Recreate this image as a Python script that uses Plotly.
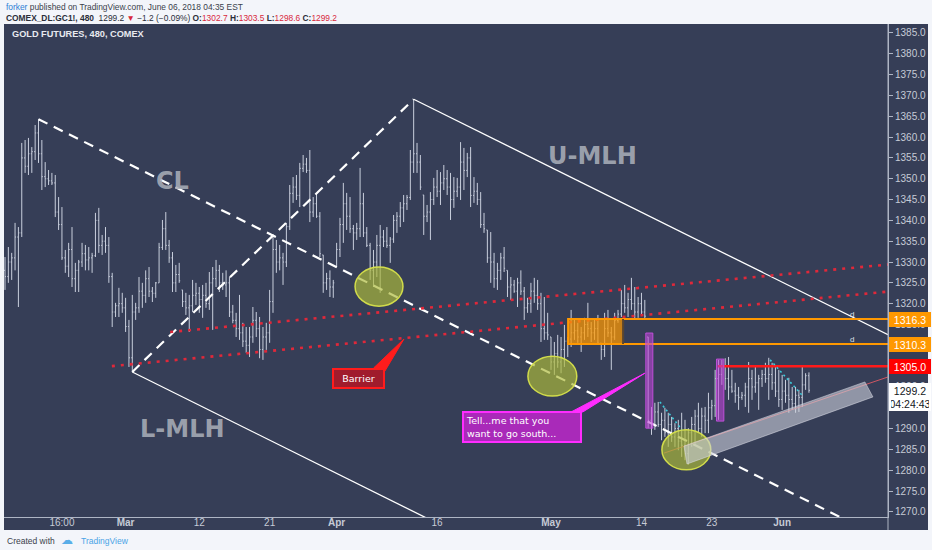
import plotly.graph_objects as go

# ---------------- data (8h bars, GC1!) ----------------
high = [
    1331.2, 1333.6, 1332.2, 1339.4, 1338.4, 1358.6, 1359.3, 1359.8, 1357.6, 1362.9,
    1364.3, 1359.3, 1354.0, 1352.1, 1351.4, 1350.9, 1345.6, 1343.2, 1332.9, 1334.6,
    1338.4, 1329.8, 1330.5, 1334.6, 1334.1, 1333.6, 1332.2, 1341.8, 1343.0, 1336.5,
    1338.4, 1336.0, 1327.4, 1320.2, 1323.8, 1322.6, 1321.4, 1316.1, 1322.1, 1320.2,
    1326.4, 1325.0, 1328.0, 1328.8, 1324.0, 1325.2, 1334.6, 1340.1, 1342.0, 1335.3,
    1332.4, 1329.3, 1329.8, 1323.3, 1322.6, 1322.1, 1325.7, 1325.0, 1324.0, 1324.5,
    1325.0, 1327.6, 1328.8, 1330.5, 1329.3, 1327.4, 1328.0, 1326.4, 1319.7, 1317.8,
    1322.1, 1315.4, 1314.4, 1314.4, 1319.2, 1318.0, 1316.8, 1314.4, 1315.4, 1323.3,
    1336.0, 1335.3, 1334.1, 1332.2, 1339.4, 1348.5, 1350.4, 1350.9, 1353.8, 1355.7,
    1355.0, 1356.9, 1345.6, 1346.6, 1342.0, 1331.7, 1327.4, 1328.0, 1325.7, 1334.6,
    1340.6, 1349.0, 1346.6, 1345.6, 1338.9, 1339.4, 1352.6, 1346.6, 1338.4, 1334.6,
    1332.9, 1336.5, 1338.9, 1337.7, 1338.4, 1336.0, 1341.3, 1342.0, 1344.4, 1346.1,
    1346.1, 1356.9, 1369.1, 1358.6, 1355.7, 1346.1, 1343.7, 1346.8, 1350.2, 1352.1,
    1351.6, 1353.3, 1352.1, 1351.4, 1350.4, 1350.2, 1358.8, 1357.4, 1356.2, 1357.6,
    1350.4, 1349.0, 1346.8, 1341.8, 1337.7, 1337.2, 1332.2, 1329.8, 1332.2, 1333.6,
    1328.0, 1326.4, 1325.7, 1326.2, 1328.0, 1324.0, 1321.4, 1325.0, 1326.2, 1325.7,
    1322.6, 1321.6, 1317.8, 1312.0, 1310.8, 1312.5, 1312.0, 1314.9, 1312.0, 1318.5,
    1316.1, 1315.4, 1314.4, 1316.6, 1320.2, 1315.6, 1316.1, 1317.3, 1310.6, 1317.8,
    1318.5, 1314.4, 1317.8, 1318.5, 1323.3, 1324.5, 1322.6, 1326.2, 1324.0, 1321.6,
    1322.6, 1320.9, 1312.0, 1295.2, 1296.2, 1296.4, 1293.8, 1295.0, 1293.8, 1292.8,
    1291.3, 1292.1, 1293.8, 1292.1, 1290.1, 1292.8, 1294.5, 1296.2, 1295.0, 1295.2,
    1298.6, 1296.9, 1304.1, 1306.5, 1306.5, 1306.9, 1307.2, 1304.1, 1301.0, 1300.0,
    1298.8, 1301.0, 1306.0, 1304.1, 1304.8, 1302.9, 1304.1, 1305.8, 1307.0, 1305.8,
    1304.8, 1304.1, 1302.9, 1301.7, 1302.2, 1300.0, 1300.0, 1299.3, 1304.8, 1303.3,
    1303.5,
]
low = [
    1323.3, 1325.0, 1325.7, 1328.0, 1319.2, 1336.0, 1351.4, 1350.9, 1351.4, 1354.5,
    1353.8, 1347.3, 1348.0, 1348.5, 1348.5, 1340.8, 1337.7, 1330.5, 1327.4, 1326.4,
    1324.0, 1322.8, 1322.8, 1328.8, 1328.0, 1328.0, 1327.4, 1331.2, 1332.2, 1331.7,
    1332.2, 1325.0, 1314.4, 1316.8, 1316.8, 1317.8, 1313.2, 1304.8, 1303.6, 1316.1,
    1317.8, 1319.0, 1320.2, 1321.6, 1320.4, 1321.4, 1325.0, 1332.9, 1332.9, 1329.8,
    1322.8, 1322.8, 1325.0, 1319.2, 1317.3, 1313.2, 1318.0, 1319.7, 1317.8, 1316.6,
    1319.0, 1318.5, 1313.7, 1324.0, 1322.8, 1323.3, 1321.6, 1316.8, 1315.3, 1312.0,
    1311.3, 1309.6, 1308.2, 1307.2, 1310.6, 1312.0, 1306.9, 1306.5, 1308.9, 1310.6,
    1317.8, 1327.4, 1328.0, 1324.5, 1328.8, 1337.7, 1344.2, 1344.9, 1343.2, 1351.6,
    1351.4, 1339.6, 1340.8, 1340.6, 1331.2, 1322.6, 1323.3, 1321.6, 1321.4, 1328.8,
    1331.2, 1334.6, 1337.7, 1337.0, 1332.9, 1335.3, 1336.0, 1336.0, 1333.6, 1325.7,
    1324.0, 1326.4, 1322.6, 1333.6, 1333.4, 1329.8, 1334.6, 1337.0, 1338.4, 1339.6,
    1342.5, 1344.9, 1351.4, 1351.4, 1347.3, 1336.5, 1339.6, 1335.3, 1343.7, 1345.6,
    1343.7, 1347.3, 1346.1, 1340.1, 1343.0, 1345.6, 1344.9, 1347.3, 1350.4, 1343.2,
    1344.2, 1343.7, 1338.2, 1337.0, 1329.8, 1325.0, 1323.8, 1323.3, 1325.7, 1327.6,
    1321.6, 1320.9, 1322.6, 1319.2, 1322.1, 1316.1, 1317.8, 1317.8, 1320.2, 1318.5,
    1310.8, 1311.3, 1311.3, 1304.1, 1302.9, 1304.6, 1303.3, 1304.8, 1307.2, 1309.6,
    1311.3, 1310.6, 1308.4, 1311.3, 1312.0, 1310.8, 1311.3, 1310.1, 1306.5, 1307.2,
    1312.0, 1304.1, 1311.3, 1315.4, 1316.8, 1317.8, 1316.8, 1318.5, 1316.1, 1316.6,
    1317.3, 1316.1, 1290.1, 1288.5, 1289.7, 1290.4, 1287.2, 1288.0, 1285.6, 1286.8,
    1285.6, 1284.8, 1283.2, 1282.4, 1281.3, 1285.6, 1286.1, 1288.9, 1288.0, 1288.9,
    1288.9, 1292.1, 1292.8, 1292.1, 1300.5, 1299.3, 1296.9, 1298.6, 1296.2, 1294.5,
    1296.9, 1295.2, 1293.8, 1296.9, 1298.6, 1294.5, 1300.0, 1301.0, 1296.9, 1299.3,
    1297.6, 1295.2, 1294.5, 1296.2, 1293.8, 1294.5, 1293.8, 1294.0, 1295.2, 1299.3,
    1298.6,
]
close = [
    1326.5, 1330.0, 1331.0, 1336.0, 1337.0, 1355.0, 1353.0, 1356.0, 1356.5, 1361.0,
    1356.0, 1350.5, 1350.0, 1349.5, 1349.0, 1342.0, 1339.0, 1331.0, 1329.0, 1333.0,
    1326.0, 1328.0, 1330.0, 1332.0, 1330.5, 1331.0, 1331.5, 1340.0, 1334.0, 1335.0,
    1334.0, 1326.5, 1318.0, 1319.5, 1320.0, 1319.0, 1314.5, 1307.0, 1318.0, 1319.0,
    1323.0, 1322.0, 1326.0, 1323.0, 1322.5, 1325.0, 1333.5, 1338.0, 1334.0, 1331.0,
    1325.0, 1327.0, 1325.5, 1320.5, 1319.0, 1319.5, 1322.0, 1322.5, 1321.0, 1322.0,
    1320.0, 1325.0, 1326.0, 1328.0, 1325.0, 1324.5, 1325.0, 1318.0, 1316.0, 1314.0,
    1313.0, 1311.0, 1310.0, 1312.0, 1316.0, 1314.0, 1309.0, 1312.0, 1313.0, 1320.5,
    1333.0, 1330.0, 1331.0, 1330.0, 1338.5, 1346.5, 1348.0, 1346.0, 1352.5, 1353.5,
    1352.0, 1342.0, 1344.0, 1341.0, 1332.0, 1325.0, 1326.0, 1324.0, 1325.0, 1333.0,
    1339.0, 1344.0, 1341.0, 1338.0, 1337.0, 1338.0, 1344.0, 1337.0, 1334.0, 1328.0,
    1330.0, 1334.0, 1336.0, 1335.0, 1334.0, 1335.5, 1340.0, 1341.0, 1343.0, 1344.0,
    1345.5, 1354.0, 1356.0, 1354.0, 1348.0, 1341.0, 1342.0, 1345.0, 1348.0, 1347.0,
    1349.0, 1350.0, 1348.0, 1345.0, 1347.0, 1348.0, 1354.0, 1352.0, 1355.0, 1346.0,
    1347.0, 1345.0, 1339.0, 1338.0, 1331.0, 1330.0, 1326.0, 1328.0, 1331.0, 1328.5,
    1324.0, 1324.5, 1323.0, 1325.0, 1323.0, 1319.0, 1320.0, 1323.0, 1322.0, 1320.0,
    1314.0, 1313.0, 1312.5, 1306.0, 1308.0, 1306.0, 1309.0, 1311.0, 1311.5, 1313.0,
    1313.5, 1312.0, 1313.0, 1315.0, 1314.0, 1313.0, 1314.0, 1310.5, 1309.0, 1314.0,
    1313.0, 1312.0, 1316.0, 1317.5, 1320.0, 1319.0, 1321.0, 1320.0, 1318.0, 1320.0,
    1318.0, 1317.0, 1292.0, 1291.0, 1294.0, 1291.0, 1292.0, 1289.0, 1291.0, 1288.0,
    1290.0, 1287.0, 1286.0, 1284.0, 1289.0, 1291.0, 1293.0, 1290.0, 1293.0, 1292.0,
    1295.0, 1295.5, 1302.0, 1303.0, 1305.0, 1302.0, 1300.0, 1299.0, 1298.0, 1297.5,
    1298.0, 1300.0, 1302.0, 1300.0, 1301.0, 1302.0, 1303.0, 1302.0, 1303.0, 1301.0,
    1299.0, 1297.0, 1299.0, 1298.0, 1297.0, 1296.0, 1298.0, 1297.5, 1300.5, 1302.7,
    1299.2,
]
first_open = 1328.0

tick_pos = [17, 36, 58, 79, 99, 129, 163, 190, 211, 232]
tick_labels = ["16:00", "<b>Mar</b>", "12", "21", "<b>Apr</b>", "16",
               "<b>May</b>", "14", "23", "<b>Jun</b>"]

# pitchfork pivots (bar indices): A = high, B = low, C = high
pivot_bars = [10, 38, 122]

# drawing tools (bar index, price)
barrier_lower_x = [31.9, 263.6]
barrier_lower_y = [1305.0, 1322.9]
barrier_upper_x = [49.3, 263.6]
barrier_upper_y = [1313.2, 1329.4]

zone_top, zone_bottom = 1316.3, 1310.3
zone_x0, zone_x1 = 168.1, 184.5
resist_level, resist_x0 = 1305.0, 212.8

circles = [(104.5, 118.8, 1319.4, 1328.8),
           (156.1, 170.7, 1297.8, 1307.4),
           (196.1, 210.7, 1280.1, 1289.7)]
purple_boxes = [(191.3, 193.4, 1290.1, 1312.95),
                (212.4, 214.6, 1291.8, 1306.7)]
band_x = [202.7, 256.7, 259.1, 203.6]
band_y = [1285.8, 1301.2, 1297.6, 1281.5]
trend_x = [196.7, 263.6]
trend_y = [1284.1, 1302.4]
cyan1_x, cyan1_y = [195.5, 202.1], [1296.4, 1289.7]
cyan2_x, cyan2_y = [228.4, 238.2], [1306.5, 1297.8]

last_price, last_time = 1299.2, "04:24:43"

assert len(high) == len(low) == len(close) == 241

# ---------------- figure ----------------
n = len(high)
bar_idx = list(range(n))
opens = [first_open] + [min(max(close[i - 1], low[i]), high[i]) for i in range(1, n)]

BG = "#363e57"
BAR = "#c9cfdd"
AXC = "#c6cbd6"
X_MIN, X_MAX = -0.3, 263.6
Y_MIN, Y_MAX = 1268.77, 1387.16
L, R, T, B = 4, 44, 24, 33
W, H = 932, 550
PW, PH = W - L - R, H - T - B


def pxx(px):
    return (px - L) / PW


def pxy(py):
    return (H - B - py) / PH


fig = go.Figure()
fig.add_trace(go.Ohlc(
    x=bar_idx, open=opens, high=high, low=low, close=close,
    increasing=dict(line=dict(color=BAR, width=1)),
    decreasing=dict(line=dict(color=BAR, width=1)),
    tickwidth=0.3, hoverinfo="skip", showlegend=False))


def line(xs, ys, color, width, dash="solid"):
    fig.add_trace(go.Scatter(x=xs, y=ys, mode="lines", hoverinfo="skip", showlegend=False,
                             line=dict(color=color, width=width, dash=dash)))


# pitchfork
a_i, b_i, c_i = pivot_bars
a_p, b_p, c_p = high[a_i], low[b_i], high[c_i]
m_i, m_p = (b_i + c_i) / 2, (b_p + c_p) / 2
slope = (m_p - a_p) / (m_i - a_i)
WD = "10px,7px"
line([a_i, X_MAX], [a_p, a_p + slope * (X_MAX - a_i)], "white", 2.2, WD)   # CL
line([b_i, c_i], [b_p, c_p], "white", 2.2, WD)                               # B-C
line([c_i, X_MAX], [c_p, c_p + slope * (X_MAX - c_i)], "white", 1.3)         # U-MLH
line([b_i, X_MAX], [b_p, b_p + slope * (X_MAX - b_i)], "white", 1.3)         # L-MLH

# barrier dotted lines
line(barrier_lower_x, barrier_lower_y, "#e0283a", 2.6, "3px,6px")
line(barrier_upper_x, barrier_upper_y, "#e0283a", 2.6, "3px,6px")

# levels
line([zone_x0, X_MAX], [zone_top, zone_top], "#ff9800", 2)
line([zone_x0, X_MAX], [zone_bottom, zone_bottom], "#ff9800", 2)
line([resist_x0, X_MAX], [resist_level, resist_level], "#ff1a1a", 2.5)

# thin trend line & cyan dotted
line(trend_x, trend_y, "rgba(235,90,100,0.85)", 1)
line(cyan1_x, cyan1_y, "#3cc8d8", 1.6, "2px,3px")
line(cyan2_x, cyan2_y, "#3cc8d8", 1.6, "2px,3px")

shapes = []
# dark pane (chart + axes)
shapes.append(dict(type="rect", xref="paper", yref="paper", x0=pxx(4), x1=pxx(928),
                   y0=pxy(530), y1=pxy(24), fillcolor=BG, line=dict(width=0), layer="below"))
shapes.append(dict(type="line", xref="paper", yref="paper", x0=1, x1=1, y0=pxy(530), y1=pxy(24),
                   line=dict(color="#aeb5c4", width=1)))
# zone box
shapes.append(dict(type="rect", x0=zone_x0, x1=zone_x1, y0=zone_bottom, y1=zone_top,
                   fillcolor="rgba(255,152,0,0.72)", line=dict(color="#ff9800", width=2)))
shapes.append(dict(type="line", x0=zone_x1, x1=zone_x1, y0=zone_bottom, y1=zone_top,
                   line=dict(color="#2a2f40", width=1.5)))
# purple boxes
for x0, x1, y0, y1 in purple_boxes:
    shapes.append(dict(type="rect", x0=x0, x1=x1, y0=y0, y1=y1,
                       fillcolor="rgba(190,70,215,0.6)", line=dict(color="rgba(200,80,225,0.9)", width=1)))
# circles
for x0, x1, y0, y1 in circles:
    shapes.append(dict(type="circle", x0=x0, x1=x1, y0=y0, y1=y1,
                       fillcolor="rgba(172,186,58,0.68)", line=dict(color="rgba(215,225,75,0.95)", width=1.5)))
# gray band
path = "M " + " L ".join(f"{x},{y}" for x, y in zip(band_x, band_y)) + " Z"
shapes.append(dict(type="path", path=path, fillcolor="rgba(205,208,218,0.6)",
                   line=dict(color="rgba(225,225,235,0.5)", width=1)))
# callout tails
shapes.append(dict(type="path", path="M 110.1,1304.6 L 113.4,1303.8 L 119.1,1311.5 Z",
                   fillcolor="#ff1c1c", line=dict(color="#ff1c1c", width=1)))
shapes.append(dict(type="path", path="M 169.0,1294.0 L 172.5,1294.0 L 191.0,1303.3 Z",
                   fillcolor="#ff2cff", line=dict(color="#ff2cff", width=1)))

ann = []
LBL = dict(family="DejaVu Sans", size=24, color="rgba(168,173,184,0.9)")
for txt, xi, yp in [("<b>CL</b>", 50.1, 1349.4), ("<b>U-MLH</b>", 175.5, 1355.4),
                    ("<b>L-MLH</b>", 53.1, 1289.9)]:
    ann.append(dict(x=xi, y=yp, text=txt, showarrow=False, font=LBL))

ann.append(dict(x=105.5, y=1302.0, text="Barrier", showarrow=False,
                font=dict(family="DejaVu Sans", size=9.5, color="white"),
                bgcolor="#a01c2c", bordercolor="#ff1c1c", borderwidth=2, borderpad=2,
                width=45, height=13))
ann.append(dict(x=154.3, y=1290.5, text="Tell...me that you<br>want to go south...", showarrow=False,
                align="left", font=dict(family="DejaVu Sans", size=9.5, color="white"),
                bgcolor="#a92ab9", bordercolor="#ff2cff", borderwidth=2, borderpad=2,
                width=112, height=24))
for yp in [1317.5, 1311.5]:
    ann.append(dict(x=252.8, y=yp, text="d", showarrow=False,
                    font=dict(family="Liberation Sans", size=8, color="#dde0e8")))


def tag(price, text, bg, fg):
    ann.append(dict(xref="paper", yref="y", x=1.001, y=price, xanchor="left", yanchor="middle",
                    text=text, showarrow=False, bgcolor=bg, bordercolor=bg, borderwidth=1,
                    borderpad=1, width=38, height=11,
                    font=dict(family="Liberation Sans", size=10.5, color=fg)))


tag(zone_top, f"{zone_top:.1f}", "#ff9800", "white")
tag(zone_bottom, f"{zone_bottom:.1f}", "#ff9800", "white")
tag(resist_level, f"{resist_level:.1f}", "#ff0000", "white")
tag(last_price, f"{last_price:.1f}", "white", "#131722")
tag(last_price - 3.2, last_time, "white", "#131722")

# header / footer texts
HF = "Liberation Sans"
ann.append(dict(xref="paper", yref="paper", x=pxx(4), y=pxy(7.5), xanchor="left", yanchor="middle",
                showarrow=False, font=dict(family=HF, size=8.4, color="#3a3f4b"),
                text="<span style='color:#2f7fd6'>forker</span> published on TradingView.com, June 06, 2018 04:35 EST"))
red = "#d8283c"
ann.append(dict(xref="paper", yref="paper", x=pxx(4), y=pxy(18), xanchor="left", yanchor="middle",
                showarrow=False, font=dict(family=HF, size=8.4, color="#2a2e39"),
                text=(f"<b>COMEX_DL:GC1!, 480</b>  1299.2 <span style='color:{red}'>▼</span> "
                      f"−1.2 (−0.09%) <b>O:</b><span style='color:{red}'>1302.7</span> "
                      f"<b>H:</b><span style='color:{red}'>1303.5</span> "
                      f"<b>L:</b><span style='color:{red}'>1298.6</span> "
                      f"<b>C:</b><span style='color:{red}'>1299.2</span>")))
ann.append(dict(xref="paper", yref="paper", x=pxx(10), y=pxy(34), xanchor="left", yanchor="middle",
                showarrow=False, font=dict(family=HF, size=9.2, color="#e8eaf0"),
                text="<b>GOLD FUTURES, 480, COMEX</b>"))
ann.append(dict(xref="paper", yref="paper", x=pxx(5), y=pxy(541), xanchor="left", yanchor="middle",
                showarrow=False, font=dict(family=HF, size=8.5, color="#3a3f4b"), text="Created with"))
ann.append(dict(xref="paper", yref="paper", x=pxx(59), y=pxy(540), xanchor="left", yanchor="middle",
                showarrow=False, font=dict(family="DejaVu Sans", size=12, color="#5aaee8"), text="☁"))
ann.append(dict(xref="paper", yref="paper", x=pxx(79), y=pxy(541), xanchor="left", yanchor="middle",
                showarrow=False, font=dict(family=HF, size=8.5, color="#4aa3e6"), text="TradingView"))

fig.update_layout(
    width=W, height=H, margin=dict(l=L, r=R, t=T, b=B),
    paper_bgcolor="#f3f5fa", plot_bgcolor=BG, showlegend=False,
    shapes=shapes, annotations=ann,
    xaxis=dict(range=[X_MIN, X_MAX], rangeslider=dict(visible=False), showgrid=False, zeroline=False,
               tickmode="array", tickvals=tick_pos, ticktext=tick_labels, ticks="",
               ticklabelstandoff=-4,
               tickfont=dict(family="Liberation Sans", size=10, color=AXC),
               showline=True, linecolor="#aeb5c4", linewidth=1),
    yaxis=dict(range=[Y_MIN, Y_MAX], side="right", showgrid=False, zeroline=False,
               tick0=1270, dtick=5, tickformat=".1f", ticks="outside", ticklen=4,
               tickcolor="#aeb5c4", tickfont=dict(family="Liberation Sans", size=10, color=AXC),
               showline=True, linecolor="#aeb5c4", linewidth=1),
)

fig.write_html("out.html", config={"displayModeBar": False},
               post_script="document.body.style.margin='0px';document.body.style.overflow='hidden';")
